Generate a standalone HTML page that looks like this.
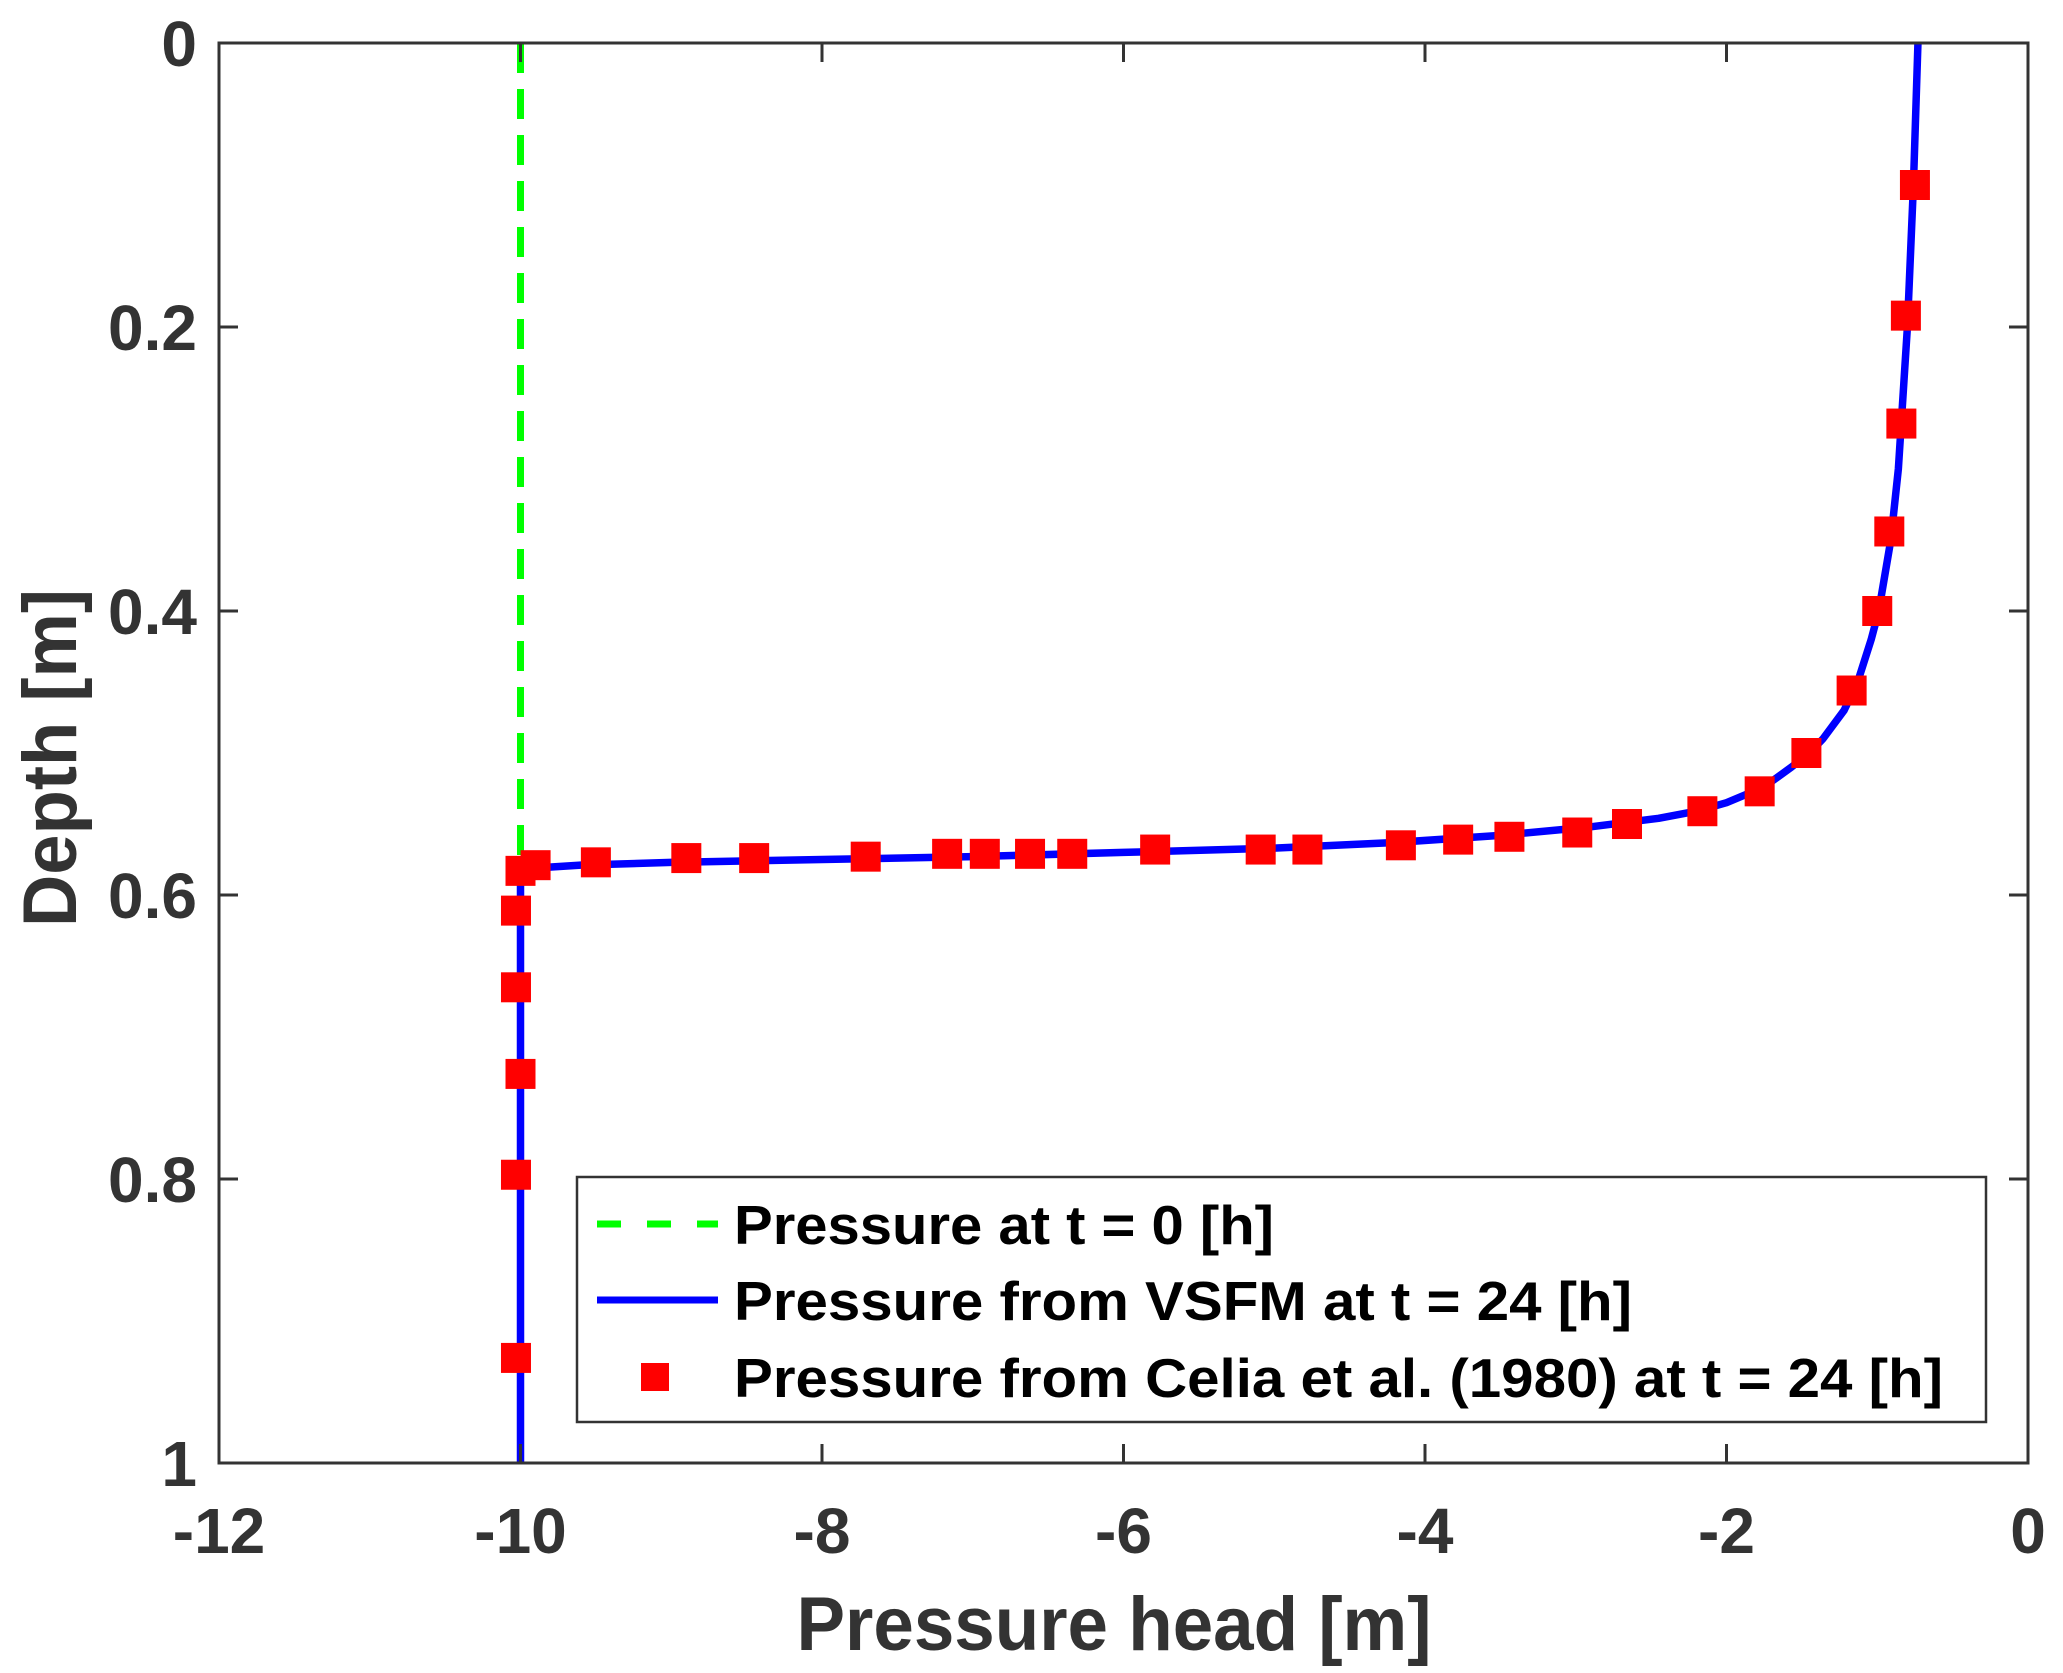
<!DOCTYPE html>
<html><head><meta charset="utf-8"><style>
html,body{margin:0;padding:0;background:#fff;}
svg{display:block;font-family:"Liberation Sans",Arial,sans-serif;font-weight:bold;}
</style></head><body>
<svg id="chart" width="2063" height="1673" viewBox="0 0 2063 1673" xmlns="http://www.w3.org/2000/svg">
<rect x="0" y="0" width="2063" height="1673" fill="#fff"/>
<g id="plot"></g>
<g id="axes"></g>
<text x="1114" y="1650" text-anchor="middle" font-size="76" fill="#333" textLength="635" lengthAdjust="spacingAndGlyphs">Pressure head [m]</text>
<text transform="translate(76,758) rotate(-90)" text-anchor="middle" font-size="76" fill="#333" textLength="338" lengthAdjust="spacingAndGlyphs">Depth [m]</text>
<g id="legend">
  <rect x="577" y="1177" width="1409" height="245" fill="#fff" stroke="#333" stroke-width="2.5"/>
  <line x1="597" y1="1224" x2="718" y2="1224" stroke="#00ff00" stroke-width="7" stroke-dasharray="24,26"/>
  <text x="734" y="1244" font-size="55" fill="#000" textLength="540" lengthAdjust="spacingAndGlyphs">Pressure at t = 0 [h]</text>
  <line x1="597" y1="1300" x2="718" y2="1300" stroke="#0000ff" stroke-width="7"/>
  <text x="734" y="1320" font-size="55" fill="#000" textLength="898" lengthAdjust="spacingAndGlyphs">Pressure from VSFM at t = 24 [h]</text>
  <rect x="641" y="1363" width="28" height="28" fill="#ff0000"/>
  <text x="734" y="1397" font-size="55" fill="#000" textLength="1209" lengthAdjust="spacingAndGlyphs">Pressure from Celia et al. (1980) at t = 24 [h]</text>
</g>
</svg>
<script>
const xTicks = [-12,-10,-8,-6,-4,-2,0];
const yTicks = [0,0.2,0.4,0.6,0.8,1];
const yTickLabels = ["0","0.2","0.4","0.6","0.8","1"];
const initialDepth = [0,0.585];
const initialPressure = [-10,-10];
const vsfmDepth = [0,0.1,0.2,0.3,0.35,0.4,0.42,0.45,0.47,0.49,0.5,0.51,0.52,0.527,0.535,0.541,0.546,0.552,0.558,0.563,0.567,0.57,0.573,0.575,0.577,0.579,0.581,0.585,0.65,1.0];
const vsfmPressure = [-0.73,-0.76,-0.80,-0.86,-0.91,-0.99,-1.04,-1.13,-1.22,-1.36,-1.45,-1.57,-1.70,-1.82,-2.0,-2.2,-2.45,-2.9,-3.5,-4.2,-5.0,-6.0,-7.0,-8.0,-9.0,-9.6,-9.9,-10.0,-10.0,-10.0];
const celiaDepth = [0.100,0.192,0.268,0.344,0.400,0.456,0.500,0.527,0.541,0.550,0.556,0.559,0.561,0.565,0.568,0.568,0.568,0.571,0.571,0.571,0.571,0.573,0.574,0.574,0.577,0.579,0.583,0.611,0.665,0.726,0.797,0.926];
const celiaPressure = [-0.75,-0.81,-0.84,-0.92,-1.00,-1.17,-1.47,-1.78,-2.16,-2.66,-2.99,-3.44,-3.78,-4.16,-4.78,-5.09,-5.79,-6.34,-6.62,-6.92,-7.17,-7.71,-8.45,-8.90,-9.50,-9.90,-10.0,-10.03,-10.03,-10.0,-10.03,-10.03];

const L=219,R=2028,T=43,B=1463;
const xScale = v => L + (v+12)/12*(R-L);
const yScale = v => T + v*(B-T);
const NS="http://www.w3.org/2000/svg";
const plot=document.getElementById('plot'), axes=document.getElementById('axes');
function mk(tag,attrs,parent){const e=document.createElementNS(NS,tag);for(const k in attrs)e.setAttribute(k,attrs[k]);parent.appendChild(e);return e;}

let p=mk('polyline',{points:initialPressure.map((v,i)=>xScale(v)+','+yScale(initialDepth[i])).join(' '),fill:'none',stroke:'#00ff00','stroke-width':7,'stroke-dasharray':'30,16'},plot);


let q=mk('polyline',{points:vsfmPressure.map((v,i)=>xScale(v)+','+yScale(vsfmDepth[i])).join(' '),fill:'none',stroke:'#0000ff','stroke-width':7.5,'stroke-linejoin':'round'},plot);


celiaPressure.forEach((v,i)=>{
  const r=mk('rect',{x:xScale(v)-15,y:yScale(celiaDepth[i])-15,width:30,height:30,fill:'#ff0000'},plot);
  
  
});

const fr=mk('rect',{x:L,y:T,width:R-L,height:B-T,fill:'none',stroke:'#333','stroke-width':3},axes);


xTicks.forEach(v=>{
  const x=xScale(v);
  const t1=mk('line',{x1:x,y1:B,x2:x,y2:B-19,stroke:'#333','stroke-width':3},axes);
  
  
  const t2=mk('line',{x1:x,y1:T,x2:x,y2:T+19,stroke:'#333','stroke-width':3},axes);
  
  
  const tx=mk('text',{x:x,y:1553,'text-anchor':'middle','font-size':64,fill:'#333'},axes);
  tx.textContent=String(v);
  
  
});
yTicks.forEach((v,i)=>{
  const y=yScale(v);
  const t1=mk('line',{x1:L,y1:y,x2:L+19,y2:y,stroke:'#333','stroke-width':3},axes);
  
  
  const t2=mk('line',{x1:R,y1:y,x2:R-19,y2:y,stroke:'#333','stroke-width':3},axes);
  
  
  const tx=mk('text',{x:197,y:y+23,'text-anchor':'end','font-size':64,fill:'#333'},axes);
  tx.textContent=yTickLabels[i];
  
  
});
</script>
</body></html>
